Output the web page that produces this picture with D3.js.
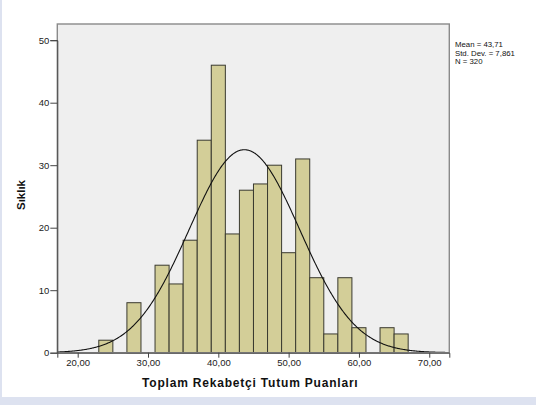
<!DOCTYPE html>
<meta charset="utf-8">
<style>
body { margin: 0; background: #fff; }
svg { display: block; font-family: "Liberation Sans", Arial, sans-serif; }
.axis text { font-size: 9.5px; fill: #222; }
.axis path, .axis line { stroke: #444; }
</style>
<body>
<svg width="536" height="405"></svg>
</body>
<script src="https://d3js.org/d3.v7.min.js"></script>
<script>

// histogram bins (left edge, width 2) and counts
var binStart = [23, 27, 31, 33, 35, 37, 39, 41, 43, 45, 47, 49, 51, 53, 55, 57, 59, 63, 65];
var counts   = [2, 8, 14, 11, 18, 34, 46, 19, 26, 27, 30, 16, 31, 12, 3, 12, 4, 4, 3];
var binWidth = 2;
var xTicks = [20, 30, 40, 50, 60, 70];
var yTicks = [0, 10, 20, 30, 40, 50];
var mean = 43.71, sd = 7.861, n = 320;
var statLines = ["Mean = 43,71", "Std. Dev. = 7,861", "N = 320"];

var svg = d3.select("svg");

// page frame strips
svg.append("rect").attr("x", 0).attr("y", 0).attr("width", 2).attr("height", 405).attr("fill", "#dde2f0");
svg.append("rect").attr("x", 0).attr("y", 397).attr("width", 536).attr("height", 8).attr("fill", "#dde2f0");

var pLeft = 57.3, pRight = 449.3, pTop = 24, pBottom = 352.7;

var x = d3.scaleLinear().domain([17.1, 72.85]).range([pLeft, pRight]);
var y = d3.scaleLinear().domain([0, 50]).range([pBottom, pBottom - 312.5]);

// plot background
svg.append("rect")
    .attr("x", pLeft).attr("y", pTop)
    .attr("width", pRight - pLeft).attr("height", pBottom - pTop)
    .attr("fill", "#efefef");

// bars
svg.append("g").selectAll("rect")
    .data(counts)
    .enter().append("rect")
    .attr("x", function(d, i) { return x(binStart[i]); })
    .attr("y", function(d) { return y(d); })
    .attr("width", function(d, i) { return x(binStart[i] + binWidth) - x(binStart[i]); })
    .attr("height", function(d) { return y(0) - y(d); })
    .attr("fill", "#d3ce98")
    .attr("stroke", "#3a3a30")
    .attr("stroke-width", 1);

// normal curve
var curvePts = d3.range(17.1, 72.86, 0.1).map(function(v) {
  var z = (v - mean) / sd;
  return [v, n * binWidth * Math.exp(-0.5 * z * z) / (sd * Math.sqrt(2 * Math.PI))];
});
svg.append("path")
    .datum(curvePts)
    .attr("fill", "none")
    .attr("stroke", "#111")
    .attr("stroke-width", 1.1)
    .attr("d", d3.line().x(function(d) { return x(d[0]); }).y(function(d) { return y(d[1]); }));

// plot frame
svg.append("rect")
    .attr("x", pLeft).attr("y", pTop)
    .attr("width", pRight - pLeft).attr("height", pBottom - pTop)
    .attr("fill", "none")
    .attr("stroke", "#8a8a8a")
    .attr("stroke-width", 1.4);

// axes
var xAxis = svg.append("g").attr("class", "axis")
    .attr("transform", "translate(0," + pBottom + ")")
    .call(d3.axisBottom(x).tickValues(xTicks).tickSize(5).tickPadding(2)
      .tickFormat(function(d) { return d3.format(".2f")(d).replace(".", ","); }));
xAxis.select(".domain").attr("stroke", "#555");

var yAxis = svg.append("g").attr("class", "axis")
    .attr("transform", "translate(" + pLeft + ",0)")
    .call(d3.axisLeft(y).tickValues(yTicks).tickSize(7).tickPadding(1));
yAxis.select(".domain").attr("stroke", "#555");

// axis titles
svg.append("text")
    .attr("x", (pLeft + pRight) / 2 - 3).attr("y", 387)
    .attr("text-anchor", "middle")
    .attr("font-size", "12px").attr("font-weight", "bold").attr("fill", "#111")
    .attr("letter-spacing", "0.8px")
    .text("Toplam Rekabetçi Tutum Puanları");

svg.append("text")
    .attr("transform", "translate(25,195) rotate(-90)")
    .attr("text-anchor", "middle")
    .attr("font-size", "11.5px").attr("font-weight", "bold").attr("fill", "#111")
    .text("Sıklık");

// stats
svg.append("g").selectAll("text")
    .data(statLines)
    .enter().append("text")
    .attr("x", 455)
    .attr("y", function(d, i) { return 47 + i * 8.5; })
    .attr("font-size", "7.8px").attr("fill", "#111")
    .text(function(d) { return d; });

</script>
